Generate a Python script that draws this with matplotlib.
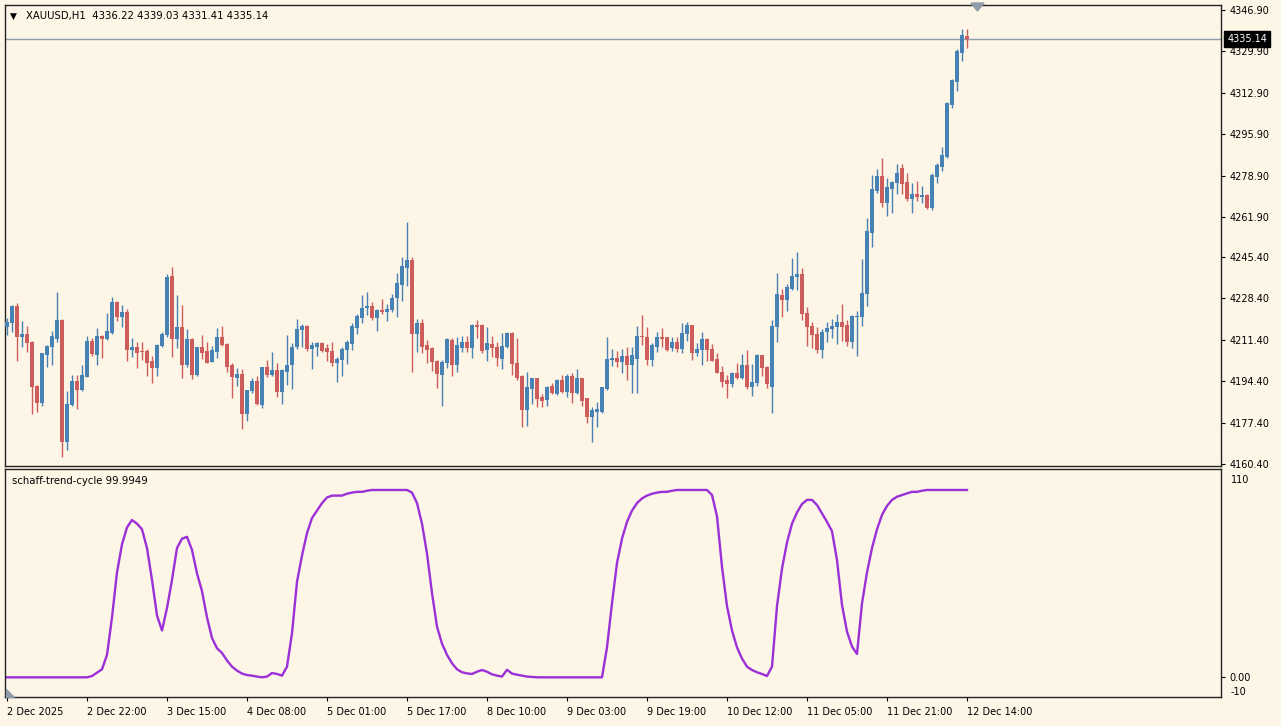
import numpy as np
import matplotlib.pyplot as plt
from matplotlib.patches import Polygon

# hourly XAUUSD bars, 2 Dec 2025 .. 12 Dec 14:00
opens = [4216.5, 4218.5, 4225.3, 4212.7, 4213.8, 4210.5, 4192.4, 4185.6, 4205.2, 4208.6,
         4211.6, 4219.6, 4169.6, 4184.5, 4194.4, 4190.8, 4196.3, 4210.9, 4205.0, 4213.0,
         4211.7, 4214.1, 4226.8, 4220.9, 4222.7, 4207.2, 4208.3, 4207.0, 4206.8, 4202.8,
         4200.0, 4208.9, 4213.4, 4237.6, 4211.8, 4216.5, 4200.9, 4211.9, 4196.9, 4208.3,
         4207.0, 4202.4, 4206.5, 4212.4, 4209.7, 4201.1, 4195.5, 4197.4, 4180.9, 4190.3,
         4194.4, 4184.6, 4200.1, 4196.9, 4199.0, 4190.1, 4198.3, 4201.1, 4208.3, 4215.4,
         4217.1, 4207.5, 4208.6, 4210.2, 4208.2, 4206.8, 4202.0, 4203.1, 4207.2, 4209.7,
         4216.4, 4220.5, 4224.3, 4225.4, 4220.2, 4223.7, 4222.7, 4223.7, 4228.5, 4233.9,
         4241.1, 4244.2, 4213.8, 4218.2, 4209.3, 4208.2, 4202.7, 4197.0, 4201.8, 4211.3,
         4201.1, 4208.2, 4210.4, 4208.2, 4217.5, 4217.5, 4207.2, 4209.7, 4208.3, 4203.4,
         4208.3, 4214.3, 4202.0, 4196.6, 4182.6, 4191.1, 4195.6, 4187.8, 4186.7, 4192.4,
         4189.2, 4194.9, 4190.1, 4196.6, 4189.7, 4195.6, 4187.4, 4179.8, 4181.9, 4181.9,
         4191.1, 4203.1, 4203.8, 4202.4, 4204.8, 4201.1, 4203.4, 4213.0, 4212.7, 4203.1,
         4208.6, 4212.7, 4212.4, 4207.9, 4210.6, 4207.5, 4213.8, 4217.5, 4206.1, 4207.2,
         4211.9, 4207.8, 4203.7, 4198.3, 4194.9, 4193.3, 4197.9, 4195.6, 4201.1, 4192.2,
         4193.8, 4205.2, 4200.4, 4192.2, 4216.5, 4229.8, 4227.8, 4232.1, 4237.1, 4238.4,
         4222.6, 4217.1, 4213.8, 4207.2, 4214.4, 4215.7, 4216.5, 4218.9, 4217.5, 4210.7,
         4220.7, 4220.7, 4230.2, 4255.4, 4272.7, 4278.7, 4267.5, 4273.2, 4276.0, 4281.8,
         4276.4, 4269.1, 4271.3, 4269.9, 4270.9, 4265.4, 4278.4, 4282.5, 4286.4, 4307.9,
         4317.5, 4329.4, 4336.22]
highs = [4220.2, 4225.8, 4226.4, 4219.3, 4217.1, 4210.8, 4192.7, 4206.1, 4209.3, 4215.2,
         4231.0, 4219.8, 4190.5, 4197.1, 4197.1, 4200.9, 4213.0, 4212.3, 4216.3, 4213.3,
         4222.3, 4229.1, 4227.2, 4225.6, 4223.9, 4212.0, 4210.7, 4210.7, 4207.5, 4204.8,
         4209.6, 4214.8, 4238.4, 4241.5, 4229.7, 4225.6, 4215.7, 4212.0, 4208.5, 4213.3,
         4210.5, 4208.9, 4216.1, 4217.1, 4209.9, 4201.8, 4199.7, 4199.3, 4190.9, 4195.5,
         4196.5, 4200.3, 4203.1, 4206.5, 4201.8, 4199.2, 4213.5, 4210.2, 4219.8, 4217.9,
         4217.5, 4210.7, 4210.7, 4210.5, 4209.6, 4210.7, 4204.5, 4208.6, 4211.3, 4218.2,
         4221.9, 4229.6, 4230.9, 4226.8, 4224.1, 4228.2, 4226.0, 4230.1, 4238.7, 4245.6,
         4259.7, 4245.6, 4219.9, 4220.0, 4211.2, 4208.4, 4203.0, 4203.0, 4212.3, 4212.3,
         4212.7, 4213.1, 4213.1, 4217.8, 4219.6, 4217.8, 4216.8, 4213.0, 4210.6, 4214.3,
         4214.8, 4214.6, 4212.0, 4196.8, 4198.3, 4195.8, 4195.8, 4189.2, 4192.4, 4193.5,
         4195.2, 4196.9, 4197.4, 4197.9, 4199.3, 4195.8, 4187.6, 4183.9, 4186.0, 4192.2,
         4212.7, 4207.5, 4206.9, 4207.5, 4208.6, 4208.3, 4217.1, 4221.6, 4216.5, 4210.0,
         4214.6, 4216.1, 4212.7, 4212.4, 4212.4, 4218.2, 4218.9, 4217.6, 4210.0, 4214.6,
         4212.2, 4209.7, 4206.1, 4200.6, 4197.0, 4198.3, 4202.0, 4205.6, 4207.2, 4201.5,
         4205.6, 4205.3, 4200.6, 4219.5, 4238.7, 4232.1, 4234.3, 4244.9, 4247.6, 4240.8,
         4224.8, 4218.9, 4216.5, 4215.7, 4218.9, 4219.8, 4222.0, 4226.1, 4219.6, 4221.4,
         4223.4, 4244.5, 4261.3, 4279.1, 4281.4, 4285.9, 4277.7, 4276.6, 4283.6, 4283.6,
         4279.8, 4275.7, 4276.8, 4274.6, 4271.3, 4280.1, 4283.9, 4290.8, 4309.2, 4318.4,
         4330.8, 4339.0, 4339.03]
lows = [4213.4, 4214.8, 4202.8, 4208.6, 4206.4, 4180.8, 4181.6, 4184.2, 4200.1, 4201.1,
        4210.7, 4163.1, 4166.2, 4184.0, 4182.9, 4190.5, 4196.0, 4204.8, 4201.1, 4203.8,
        4211.5, 4213.8, 4219.3, 4216.8, 4202.8, 4204.2, 4199.7, 4203.1, 4196.6, 4193.8,
        4196.6, 4208.6, 4212.7, 4204.2, 4207.9, 4195.6, 4200.1, 4195.2, 4196.5, 4203.4,
        4201.8, 4202.2, 4203.8, 4208.9, 4198.2, 4187.4, 4192.4, 4174.6, 4178.2, 4189.4,
        4184.6, 4183.3, 4196.3, 4196.5, 4188.1, 4185.1, 4192.9, 4191.1, 4207.5, 4208.3,
        4206.9, 4199.3, 4204.8, 4206.5, 4202.7, 4200.8, 4193.9, 4196.7, 4201.3, 4207.2,
        4213.7, 4218.2, 4221.6, 4219.6, 4215.0, 4221.9, 4219.1, 4223.0, 4220.9, 4227.4,
        4233.7, 4198.1, 4206.3, 4205.9, 4201.8, 4198.6, 4191.5, 4184.4, 4199.7, 4196.7,
        4198.3, 4206.3, 4206.3, 4203.8, 4212.3, 4205.9, 4202.8, 4204.5, 4200.6, 4199.3,
        4207.9, 4196.9, 4194.9, 4175.5, 4176.0, 4185.0, 4183.7, 4183.7, 4184.2, 4189.2,
        4188.9, 4189.4, 4188.1, 4185.3, 4189.2, 4184.2, 4177.1, 4169.6, 4175.7, 4181.5,
        4190.8, 4200.6, 4200.4, 4197.9, 4194.9, 4189.4, 4189.4, 4209.3, 4201.1, 4200.6,
        4206.4, 4208.3, 4206.9, 4206.9, 4206.4, 4205.9, 4211.1, 4203.1, 4204.8, 4201.1,
        4202.8, 4202.6, 4197.6, 4191.9, 4187.4, 4191.9, 4195.2, 4195.2, 4191.1, 4188.3,
        4192.4, 4196.5, 4191.5, 4181.2, 4210.6, 4220.6, 4223.4, 4231.9, 4231.9, 4219.5,
        4208.9, 4207.9, 4205.9, 4203.8, 4210.3, 4212.0, 4209.7, 4211.1, 4208.9, 4207.9,
        4204.8, 4217.1, 4225.3, 4249.4, 4271.6, 4265.8, 4262.3, 4263.6, 4271.3, 4271.3,
        4268.6, 4263.4, 4268.6, 4267.7, 4265.0, 4264.7, 4275.7, 4280.9, 4286.0, 4306.5,
        4313.8, 4326.1, 4331.41]
closes = [4218.9, 4225.3, 4212.7, 4213.8, 4210.2, 4191.9, 4185.6, 4205.9, 4208.9, 4213.0,
          4219.6, 4169.6, 4185.1, 4194.4, 4190.8, 4197.0, 4210.9, 4205.6, 4213.0, 4211.9,
          4215.2, 4226.8, 4220.9, 4222.7, 4207.2, 4208.3, 4206.1, 4206.3, 4202.0, 4200.0,
          4209.3, 4213.8, 4237.3, 4211.8, 4216.5, 4200.9, 4211.9, 4196.9, 4208.3, 4206.1,
          4202.0, 4207.2, 4212.4, 4209.3, 4200.4, 4196.0, 4197.4, 4180.9, 4190.8, 4194.4,
          4185.1, 4200.1, 4196.9, 4199.0, 4190.1, 4199.0, 4201.1, 4208.3, 4215.7, 4217.1,
          4207.5, 4209.3, 4210.2, 4207.0, 4206.3, 4202.0, 4203.5, 4207.6, 4210.7, 4217.2,
          4221.3, 4224.6, 4225.4, 4220.5, 4223.7, 4222.7, 4224.1, 4228.7, 4234.6, 4241.7,
          4244.2, 4213.8, 4218.2, 4208.6, 4207.2, 4202.2, 4197.2, 4202.2, 4211.8, 4201.1,
          4209.3, 4210.4, 4208.2, 4217.5, 4216.8, 4206.6, 4210.2, 4207.9, 4203.8, 4208.9,
          4214.3, 4201.5, 4195.6, 4182.6, 4191.9, 4195.6, 4187.0, 4186.4, 4191.9, 4189.7,
          4194.9, 4190.1, 4196.6, 4189.7, 4195.6, 4186.4, 4179.8, 4182.6, 4182.9, 4191.9,
          4203.4, 4203.8, 4202.4, 4204.8, 4201.1, 4205.2, 4213.0, 4212.4, 4203.1, 4209.3,
          4212.7, 4211.9, 4207.2, 4210.6, 4207.5, 4214.3, 4217.5, 4206.1, 4207.8, 4211.9,
          4207.2, 4202.8, 4197.9, 4194.2, 4193.3, 4197.9, 4195.6, 4201.1, 4192.2, 4194.2,
          4205.2, 4199.7, 4193.3, 4217.1, 4230.2, 4227.8, 4233.0, 4237.6, 4238.4, 4222.0,
          4216.8, 4213.4, 4207.2, 4214.8, 4216.4, 4217.1, 4218.9, 4216.8, 4210.7, 4221.2,
          4221.2, 4230.8, 4256.2, 4273.2, 4278.7, 4267.7, 4274.0, 4276.4, 4280.1, 4275.4,
          4269.1, 4271.3, 4269.9, 4270.9, 4265.4, 4279.1, 4283.2, 4287.4, 4308.6, 4318.2,
          4330.2, 4336.6, 4335.14]

# schaff trend cycle, one value per bar
stc = [0, 0, 0, 0, 0, 0, 0, 0, 0, 0, 0, 0, 0, 0, 0, 0, 0,
       0.7, 2.5, 4.3, 12, 32, 56, 71, 80, 84, 82, 79, 69, 52, 33, 25, 37, 52, 69, 74, 75, 68,
       55.5, 46, 32, 21, 15.5, 13, 9, 5.7, 3.6, 2, 1.2, 0.9, 0.4, 0, 0.4, 2.3, 1.8, 0.9, 5.7,
       23.5, 51, 65, 77, 85, 89, 93, 96, 97, 97, 97, 98, 98.6, 99, 99, 99.6,
       100, 100, 100, 100, 100, 100, 100, 100,
       98.6, 93, 82, 66, 45, 27, 18, 12, 7.5, 4.3, 2.7, 2.1, 1.8, 3, 3.9, 3, 1.6, 0.9, 0.4,
       4, 2, 1.4, 0.9, 0.4, 0.2,
       0, 0, 0, 0, 0, 0, 0, 0, 0, 0, 0, 0, 0, 0,
       16, 39.5, 61, 74, 83, 89, 93, 95.5, 97, 98, 98.6, 99, 99, 99.6,
       100, 100, 100, 100, 100, 100, 100,
       97.3, 86, 59, 38, 25, 16, 10, 5.7, 3.9, 2.7, 1.8, 0.7, 5.7, 38, 58, 72, 82, 88, 92.5,
       94.7, 94.7, 92, 87.5, 83, 78, 62.6, 38.6, 24.4, 16.4, 12.5, 39.5, 56, 69, 79, 86.7,
       91.5, 94.7, 96.4, 97.3, 98.2, 99, 99, 99.6,
       100, 100, 100, 100, 100, 100, 100, 100, 100]

time_labels = ['2 Dec 2025', '2 Dec 22:00', '3 Dec 15:00', '4 Dec 08:00', '5 Dec 01:00',
               '5 Dec 17:00', '8 Dec 10:00', '9 Dec 03:00', '9 Dec 19:00', '10 Dec 12:00',
               '11 Dec 05:00', '11 Dec 21:00', '12 Dec 14:00']
price_ticks = [4346.90, 4329.90, 4312.90, 4295.90, 4278.90, 4261.90, 4245.40,
               4228.40, 4211.40, 4194.40, 4177.40, 4160.40]
last_price = 4335.14
stc_last = 99.9949

bg = '#fdf5e6'
up = '#4682b4'
down = '#cd5c5c'
W, H = 1281, 726

def box(x0, y0, x1, y1):
    return [x0 / W, 1 - y1 / H, (x1 - x0) / W, (y1 - y0) / H]

fig = plt.figure(figsize=(W / 100, H / 100), dpi=100, facecolor=bg)
ax = fig.add_axes(box(5, 5, 1221, 466), facecolor=bg)
ax2 = fig.add_axes(box(5, 469, 1221, 697), facecolor=bg)

o = np.array(opens); h = np.array(highs); l = np.array(lows); c = np.array(closes)
x = np.arange(len(o))
cols = np.where(c >= o, up, down)
ax.vlines(x, l, h, colors=cols, linewidth=1.0, zorder=2)
ax.bar(x, np.maximum(np.abs(c - o), 0.45), bottom=np.minimum(o, c), width=0.8,
       color=cols, edgecolor='none', zorder=3)
ax.axhline(last_price, color='#8e9baa', lw=1.0, zorder=1)

ax.set_xlim(-0.4, 242.8)
ax.set_ylim(4159.55, 4348.95)
ax.set_xticks([])
ax.yaxis.tick_right()
ax.set_yticks(price_ticks)
ax.set_yticklabels(['%.2f' % p for p in price_ticks])
ax.tick_params(axis='y', length=3, width=0.8, pad=3, labelsize=7, colors='black')
ax.text(1.005, last_price, '%.2f' % last_price, transform=ax.get_yaxis_transform(),
        va='center', ha='left', fontsize=7, color='white', zorder=10,
        bbox=dict(boxstyle='square,pad=0.3', fc='black', ec='black'))
for sp in ax.spines.values():
    sp.set_color('#222222'); sp.set_linewidth(1)

# header
fig.text(10 / W, 1 - 16 / H, '▼', fontsize=6.5, va='center', ha='left', color='black')
fig.text(26 / W, 1 - 16 / H, 'XAUUSD,H1  %.2f %.2f %.2f %.2f' % (opens[-1], highs[-1], lows[-1], closes[-1]),
         fontsize=7.3, va='center', ha='left', color='black')

# indicator window
ax2.plot(x, stc, color='#9b30d9', lw=1.7, solid_joinstyle='round')
ax2.set_xlim(-0.4, 242.8)
ax2.set_ylim(-10.5, 111.2)
ax2.yaxis.tick_right()
ax2.set_yticks([0])
ax2.set_yticklabels(['0.00'])
ax2.tick_params(axis='y', length=3, width=0.8, pad=3, labelsize=7)
ax2.annotate('110', xy=(1, 110), xycoords=('axes fraction', 'data'), xytext=(7, -6),
             textcoords='offset points', fontsize=7, va='center', ha='left')
ax2.annotate('-10', xy=(1, -10), xycoords=('axes fraction', 'data'), xytext=(7, 3),
             textcoords='offset points', fontsize=7, va='center', ha='left')
ax2.text(12 / W, 1 - 481 / H, 'schaff-trend-cycle %.4f' % stc_last, transform=fig.transFigure,
         fontsize=7.3, va='center', ha='left')
tick_pos = np.arange(0, len(o), 16)
ax2.set_xticks(tick_pos)
ax2.set_xticklabels(time_labels)
ax2.tick_params(axis='x', length=3, width=0.8, pad=4, labelsize=7)
for t in ax2.get_xticklabels():
    t.set_ha('left')
for sp in ax2.spines.values():
    sp.set_color('#222222'); sp.set_linewidth(1)

# little grey markers of the terminal
fig.patches.append(Polygon([(971 / W, 1 - 3 / H), (984 / W, 1 - 3 / H), (977.5 / W, 1 - 11 / H)],
                           closed=True, transform=fig.transFigure, color='#8e9baa', figure=fig))
fig.patches.append(Polygon([(6 / W, 1 - 689 / H), (6 / W, 1 - 697 / H), (14 / W, 1 - 697 / H)],
                           closed=True, transform=fig.transFigure, color='#8e9baa', figure=fig))

fig.savefig('out.png', dpi=100, facecolor=bg)
